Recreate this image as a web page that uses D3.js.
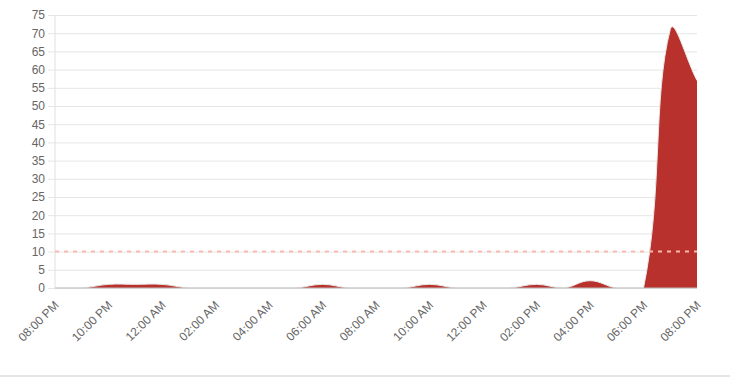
<!DOCTYPE html>
<html>
<head>
<meta charset="utf-8">
<script src="https://cdn.jsdelivr.net/npm/d3@7"></script>
<style>
  body { margin: 0; background: #fff; }
  text { font-family: "Liberation Sans", Arial, sans-serif; }
</style>
</head>
<body>
<script>
// data: one value per hour, 8 PM to 8 PM next day
var hours = [20, 21, 22, 23, 0, 1, 2, 3, 4, 5, 6, 7, 8, 9, 10, 11, 12, 13, 14, 15, 16, 17, 18, 19, 20];
var values = [0, 0, 1, 1, 1, 0, 0, 0, 0, 0, 1, 0, 0, 0, 1, 0, 0, 0, 1, 0, 2, 0, 0, 71, 57];
var threshold = 10;
var yTicks = [0, 5, 10, 15, 20, 25, 30, 35, 40, 45, 50, 55, 60, 65, 70, 75];

var margin = {top: 15, right: 33, bottom: 89, left: 55},
    width = 730 - margin.left - margin.right,
    height = 377 - margin.top - margin.bottom;

// datums opbouwen vanaf een startdag
var start = new Date(2020, 0, 1, 20, 0);
var data = values.map(function(v, i) {
  return {date: new Date(start.getTime() + i * 3600 * 1000), value: v};
});

var x = d3.scaleTime()
    .domain([data[0].date, data[data.length - 1].date])
    .range([0, width]);
var y = d3.scaleLinear().domain([0, 75]).range([height, 0]);

// spline zoals chart.js (tension 0.4, controlepunten binnen het vlak gehouden)
function splinePath(pts, tension, closeTo) {
  var cps = pts.map(function(p, i) {
    var prev = pts[i - 1] || p, next = pts[i + 1] || p;
    var d01 = Math.hypot(p[0] - prev[0], p[1] - prev[1]);
    var d12 = Math.hypot(next[0] - p[0], next[1] - p[1]);
    var s01 = d01 / (d01 + d12) || 0, s12 = d12 / (d01 + d12) || 0;
    var fa = tension * s01, fb = tension * s12;
    var cl = function(v) { return Math.max(0, Math.min(height, v)); };
    return {
      px: p[0] - fa * (next[0] - prev[0]), py: cl(p[1] - fa * (next[1] - prev[1])),
      nx: p[0] + fb * (next[0] - prev[0]), ny: cl(p[1] + fb * (next[1] - prev[1]))
    };
  });
  var path = d3.path();
  if (closeTo != null) {
    path.moveTo(pts[0][0], closeTo);
    path.lineTo(pts[0][0], pts[0][1]);
  } else {
    path.moveTo(pts[0][0], pts[0][1]);
  }
  for (var i = 1; i < pts.length; i++) {
    path.bezierCurveTo(cps[i - 1].nx, cps[i - 1].ny, cps[i].px, cps[i].py, pts[i][0], pts[i][1]);
  }
  if (closeTo != null) {
    path.lineTo(pts[pts.length - 1][0], closeTo);
    path.closePath();
  }
  return path.toString();
}

var svg = d3.select("body").append("svg")
    .attr("width", 730)
    .attr("height", 377);

// grijze lijn onderaan
svg.append("rect")
    .attr("x", 0).attr("y", 375)
    .attr("width", 730).attr("height", 2)
    .attr("fill", "#e6e6e6");

var g = svg.append("g")
    .attr("transform", "translate(" + margin.left + "," + margin.top + ")");

g.append("clipPath").attr("id", "clip")
  .append("rect")
    .attr("width", width)
    .attr("height", height);

// y-as met gridlijnen
var yAxis = g.append("g")
    .call(d3.axisLeft(y).tickValues(yTicks).tickSize(-width).tickPadding(10));
yAxis.select(".domain").remove();
yAxis.selectAll(".tick line")
    .attr("stroke", "#e6e6e6")
    .attr("x1", -7);
yAxis.selectAll(".tick text")
    .attr("fill", "#666")
    .style("font-size", "12px");

g.append("line")
    .attr("x1", 0).attr("x2", 0)
    .attr("y1", 0).attr("y2", height)
    .attr("stroke", "#e0e0e0");

var pts = data.map(function(d) { return [x(d.date), y(d.value)]; });

// area
g.append("path")
    .attr("clip-path", "url(#clip)")
    .attr("fill", "#b9312c")
    .attr("d", splinePath(pts, 0.4, height));

g.append("path")
    .attr("clip-path", "url(#clip)")
    .attr("fill", "none")
    .attr("stroke", "#e8e8e8")
    .attr("stroke-width", 1)
    .attr("d", splinePath(pts, 0.4, null));

// x-as
g.append("line")
    .attr("x1", 0).attr("x2", width)
    .attr("y1", height).attr("y2", height)
    .attr("stroke", "#bdbdbd");

var xAxis = g.append("g")
    .attr("transform", "translate(0," + height + ")")
    .call(d3.axisBottom(x).ticks(d3.timeHour.every(2)).tickFormat(d3.timeFormat("%I:%M %p")).tickSize(0));
xAxis.select(".domain").remove();
xAxis.selectAll(".tick text")
    .attr("fill", "#666")
    .style("font-size", "12px")
    .attr("text-anchor", "end")
    .attr("dy", "0.35em")
    .attr("transform", "translate(1,15) rotate(-45)")
    .attr("y", 0);

// drempellijn
g.append("line")
    .attr("x1", 0).attr("x2", width)
    .attr("y1", y(threshold)).attr("y2", y(threshold))
    .attr("stroke", "#fbb9b0")
    .attr("stroke-width", 2)
    .attr("stroke-dasharray", "4,5");
</script>
</body>
</html>
